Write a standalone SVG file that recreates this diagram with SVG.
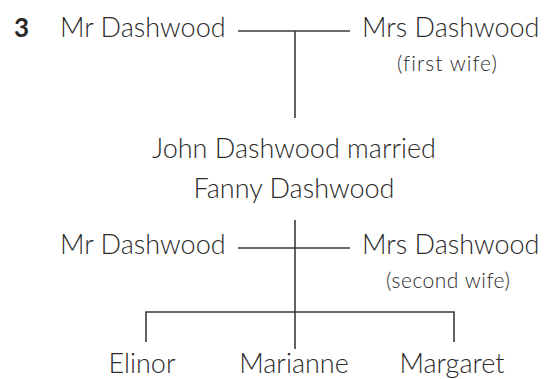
<svg xmlns="http://www.w3.org/2000/svg" width="544" height="379" viewBox="0 0 544 379">
<style>
text{font-family:"Lato","Open Sans","Liberation Sans",sans-serif;font-weight:300;fill:#2b2b2b;font-variant-ligatures:none}
.n{font-size:27px}
.s{font-size:21px}
.num{font-weight:700;font-size:26px}
.c line,.c polyline{stroke:#3a3a3a;stroke-width:1.6;fill:none}
</style>
<rect width="544" height="379" fill="#ffffff"/>
<text class="num" x="14" y="37">3</text>
<g id="mr1"><text class="n" x="60" y="37">Mr Dashwood</text></g>
<g id="mrs1"><text class="n" x="362" y="37">Mrs Dashwood</text><text class="s" x="397" y="71" textLength="100">(first wife)</text></g>
<g id="john"><text class="n" x="294" y="158" text-anchor="middle">John Dashwood married</text><text class="n" x="294" y="198" text-anchor="middle">Fanny Dashwood</text></g>
<g id="mr2"><text class="n" x="60" y="254">Mr Dashwood</text></g>
<g id="mrs2"><text class="n" x="362" y="254">Mrs Dashwood</text><text class="s" x="386" y="288" textLength="124">(second wife)</text></g>
<g id="elinor"><text class="n" x="142" y="373" text-anchor="middle">Elinor</text></g>
<g id="marianne"><text class="n" x="294" y="373" text-anchor="middle">Marianne</text></g>
<g id="margaret"><text class="n" x="452" y="373" text-anchor="middle">Margaret</text></g>
<g class="c" id="connectors">
<line x1="238" y1="31" x2="350" y2="31"/>
<line x1="295" y1="31" x2="295" y2="118"/>
<line x1="238" y1="248" x2="350" y2="248"/>
<line x1="295" y1="220" x2="295" y2="349"/>
<polyline points="146,342 146,312 454,312 454,342"/>
</g>
</svg>
